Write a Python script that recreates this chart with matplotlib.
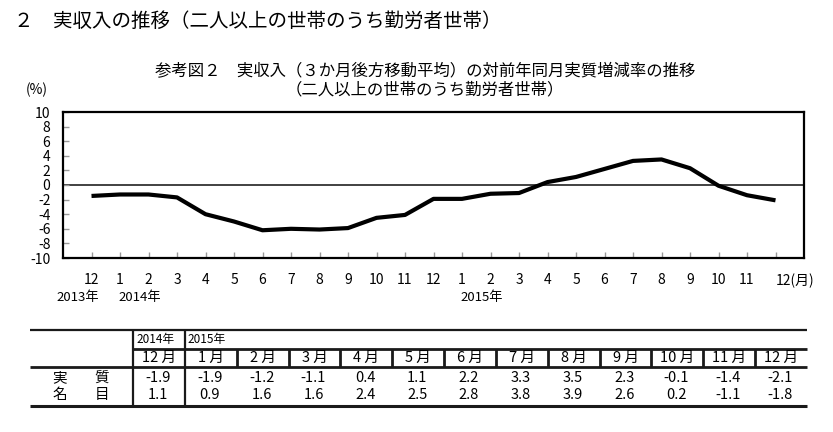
import matplotlib
matplotlib.use('Agg')
import matplotlib.pyplot as plt

plt.rcParams['font.family'] = ['Noto Sans CJK JP', 'DejaVu Sans']

# ---------------- data ----------------
x_tick_labels = ['12', '1', '2', '3', '4', '5', '6', '7', '8', '9', '10', '11',
                 '12', '1', '2', '3', '4', '5', '6', '7', '8', '9', '10', '11', '12(月)']
# 2013/12 .. 2014/11
early_values = [-1.5, -1.3, -1.3, -1.7, -4.0, -5.0, -6.2, -6.0, -6.1, -5.9, -4.5, -4.1]
# 2014/12 .. 2015/12 (table)
table_months = ['12', '1', '2', '3', '4', '5', '6', '7', '8', '9', '10', '11', '12']
real_values = [-1.9, -1.9, -1.2, -1.1, 0.4, 1.1, 2.2, 3.3, 3.5, 2.3, -0.1, -1.4, -2.1]
nominal_values = [1.1, 0.9, 1.6, 1.6, 2.4, 2.5, 2.8, 3.8, 3.9, 2.6, 0.2, -1.1, -1.8]
y_ticks = [-10, -8, -6, -4, -2, 0, 2, 4, 6, 8, 10]
year_labels = ['2013年', '2014年', '2015年']
table_years = ['2014年', '2015年']
row_labels = [('実', '質'), ('名', '目')]

main_title = '２　実収入の推移（二人以上の世帯のうち勤労者世帯）'
chart_title1 = '参考図２　実収入（３か月後方移動平均）の対前年同月実質増減率の推移'
chart_title2 = '（二人以上の世帯のうち勤労者世帯）'

series = early_values + real_values

W, H = 833, 432
fig = plt.figure(figsize=(W / 100, H / 100), dpi=100)
fig.patch.set_facecolor('white')

def fx(px):
    return px / W

def fy(py):
    return 1 - py / H

# titles
fig.text(fx(14), fy(21), main_title, ha='left', va='center', fontsize=14)
fig.text(fx(425), fy(72), chart_title1, ha='center', va='center', fontsize=11.8)
fig.text(fx(425), fy(90), chart_title2, ha='center', va='center', fontsize=11.8)
fig.text(fx(37), fy(90), '(%)', ha='center', va='center', fontsize=10)

# ---------------- line chart ----------------
ax = fig.add_axes([fx(63), fy(258), fx(804) - fx(63), fy(112) - fy(258)])
xs = list(range(len(series)))
ax.plot(xs, series, color='black', lw=3, solid_capstyle='butt')
ax.axhline(0, color='#333333', lw=1.3, zorder=1)
ax.set_xlim(-1, len(series))
ax.set_ylim(-10, 10)
ax.set_yticks(y_ticks)
ax.set_yticklabels([str(v) for v in y_ticks], fontsize=10)
ax.set_xticks(xs)
ax.set_xticklabels(x_tick_labels, fontsize=10)
ax.tick_params(axis='both', direction='in', length=4, color='#999999', width=1)
ax.tick_params(axis='y', pad=9)
ax.tick_params(axis='x', pad=11)
last = ax.get_xticklabels()[-1]
last.set_ha('left')
for s in ax.spines.values():
    s.set_linewidth(1.6)
    s.set_color('black')

trans = ax.get_xaxis_transform()
ypos = (258 - 297) / 146
ax.text(0.25, ypos, year_labels[0], transform=trans, ha='right', va='center', fontsize=9.5)
ax.text(0.93, ypos, year_labels[1], transform=trans, ha='left', va='center', fontsize=9.5)
ax.text(12.93, ypos, year_labels[2], transform=trans, ha='left', va='center', fontsize=9.5)

# ---------------- table ----------------
tx0, tx1 = 30, 807
ty0, ty1 = 330, 406
tax = fig.add_axes([fx(tx0), fy(ty1), fx(tx1) - fx(tx0), fy(ty0) - fy(ty1)])
tax.set_xlim(tx0, tx1)
tax.set_ylim(ty1, ty0)
tax.axis('off')

col0 = 133
ncol = len(table_months)
cw = (tx1 - col0) / ncol
row_year_bottom = 349
row_month_bottom = 367
y_year = 339.5
y_month = 358
y_real = 378
y_nom = 395

lc = '#1a1a1a'
kw = dict(color=lc, clip_on=False, solid_capstyle='butt')
tax.plot([tx0, tx1], [ty0, ty0], lw=1.6, **kw)
tax.plot([col0, tx1], [row_year_bottom, row_year_bottom], lw=2.0, **kw)
tax.plot([tx0, tx1], [row_month_bottom, row_month_bottom], lw=2.0, **kw)
tax.plot([tx0, tx1], [ty1, ty1], lw=2.2, **kw)
tax.plot([col0, col0], [ty0, ty1], lw=1.6, **kw)
tax.plot([col0 + cw, col0 + cw], [ty0, ty1], lw=1.6, **kw)
for k in range(2, ncol):
    xk = col0 + k * cw
    tax.plot([xk, xk], [row_year_bottom, row_month_bottom], lw=2.0, **kw)

tax.text(col0 + 3, y_year, table_years[0], ha='left', va='center', fontsize=8.5)
tax.text(col0 + cw + 3, y_year, table_years[1], ha='left', va='center', fontsize=8.5)

for i, m in enumerate(table_months):
    cx = col0 + (i + 0.5) * cw
    tax.text(cx, y_month, f'{m} 月', ha='center', va='center', fontsize=10.5)
    tax.text(cx - 1, y_real, f'{real_values[i]:.1f}', ha='center', va='center', fontsize=10.5)
    tax.text(cx - 1, y_nom, f'{nominal_values[i]:.1f}', ha='center', va='center', fontsize=10.5)

for (a, b), yy in zip(row_labels, [y_real, y_nom]):
    tax.text(60, yy, a, ha='center', va='center', fontsize=10.5)
    tax.text(102, yy, b, ha='center', va='center', fontsize=10.5)

fig.savefig('out.png', dpi=100, facecolor='white')
